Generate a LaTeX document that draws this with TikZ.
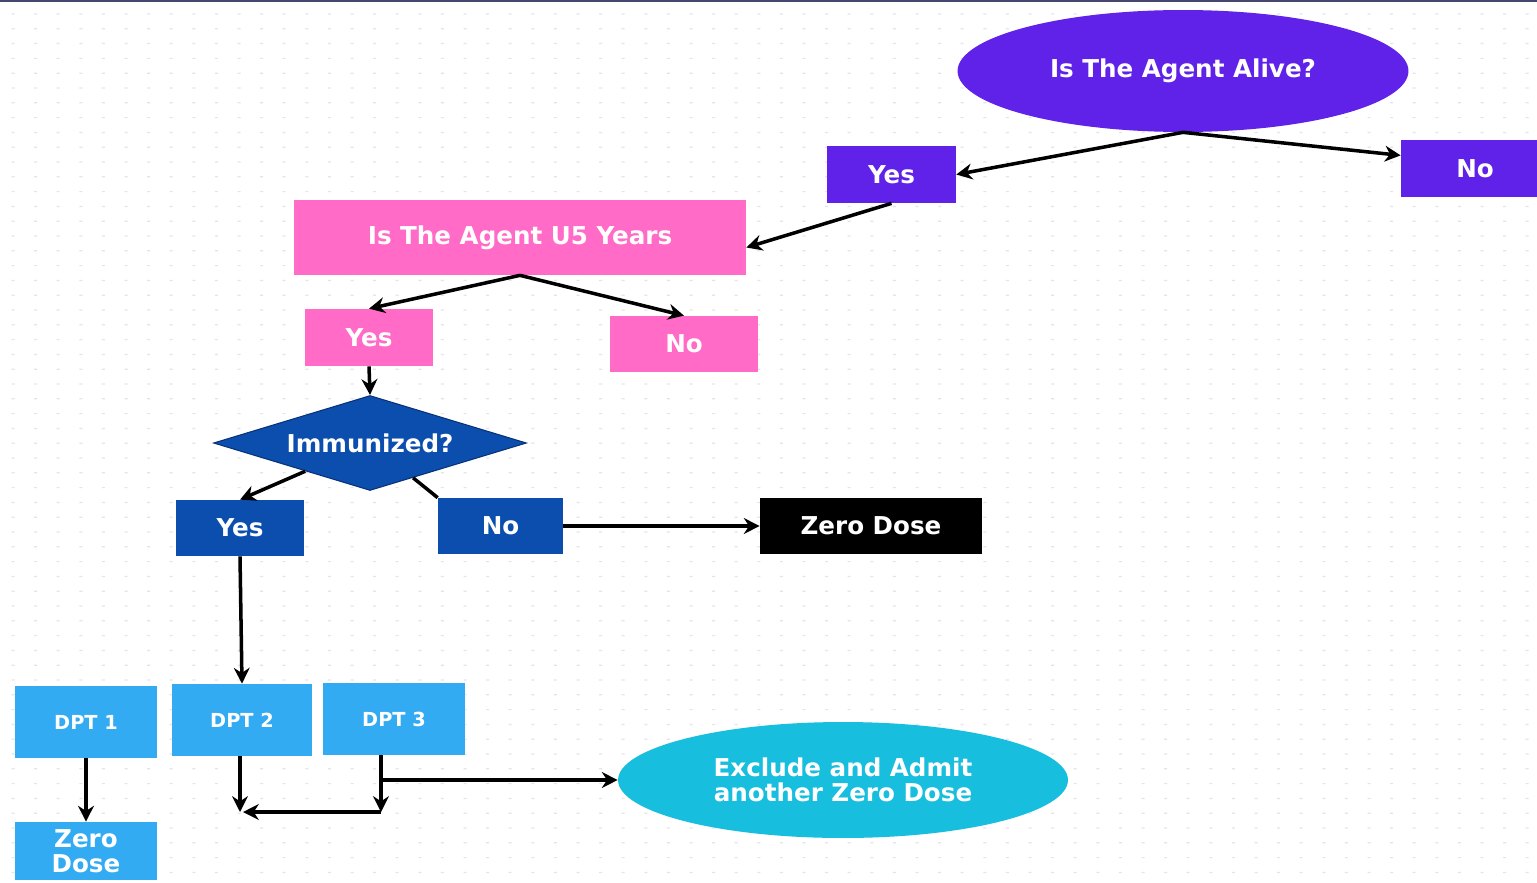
\documentclass[tikz,border=0pt]{standalone}
\usepackage{fontspec}
\setmainfont{DejaVu Sans}
\usetikzlibrary{shapes.geometric, arrows.meta, positioning, calc}
\definecolor{agentpurple}{RGB}{96,33,232}
\definecolor{agentpink}{RGB}{255,107,199}
\definecolor{immblue}{RGB}{11,78,174}
\definecolor{immborder}{RGB}{8,50,120}
\definecolor{dptblue}{RGB}{51,171,243}
\definecolor{excludecyan}{RGB}{24,190,222}
\definecolor{gridgray}{RGB}{228,228,236}
\definecolor{topline}{RGB}{70,70,110}
\tikzset{
  flowbox/.style={rectangle, inner sep=0pt, align=center, text=white,
    font=\bfseries\fontsize{14}{14}\selectfont},
  purplebox/.style={flowbox, fill=agentpurple},
  pinkbox/.style={flowbox, fill=agentpink},
  bluebox/.style={flowbox, fill=immblue},
  dptbox/.style={flowbox, fill=dptblue, font=\bfseries\fontsize{11}{11}\selectfont},
  arrow/.style={-{Stealth[length=9pt, width=9pt]}, line width=2pt, color=black},
  line/.style={draw, line width=2pt, color=black}
}

\begin{document}
\begin{tikzpicture}[x=0.02cm, y=-0.02cm]
  \useasboundingbox (0,0) rectangle (1537,882);
  \clip (0,0) rectangle (1537,882);

  % Background grid
  \fill[white] (0,0) rectangle (1537,882);
  \fill[gridgray] \foreach \x in {13,35.6,...,1537} {
    \foreach \y in {14,28.8,...,882} { (\x-1.5,\y-0.6) rectangle (\x+1.5,\y+0.6) } };
  \fill[topline] (0,0) rectangle (1537,2.5);

  % Is the agent alive
  \node[ellipse, fill=agentpurple, inner sep=0pt, minimum width=9.02cm, minimum height=2.44cm,
    text=white, font=\bfseries\fontsize{14}{14}\selectfont] (alive) at (1183,71) {Is The Agent Alive?};
  \node[purplebox, minimum width=2.58cm, minimum height=1.14cm] (aliveyes) at (891.5,174.5) {Yes};
  \node[purplebox, minimum width=2.96cm, minimum height=1.14cm] (aliveno) at (1475,168.5) {No};

  % Under five
  \node[pinkbox, minimum width=9.04cm, minimum height=1.5cm] (ufive) at (520,237.5) {Is The Agent U5 Years};
  \node[pinkbox, minimum width=2.56cm, minimum height=1.14cm] (ufiveyes) at (369,337.5) {Yes};
  \node[pinkbox, minimum width=2.96cm, minimum height=1.12cm] (ufiveno) at (684,344) {No};

  % Immunized
  \node[diamond, aspect=3.3, fill=immblue, draw=immborder, line width=0.6pt, inner sep=0pt,
    minimum width=6.26cm, minimum height=1.9cm, text=white,
    font=\bfseries\fontsize{14}{14}\selectfont] (immun) at (370,443) {Immunized?};
  \node[bluebox, minimum width=2.56cm, minimum height=1.12cm] (immyes) at (240,528) {Yes};
  \node[bluebox, minimum width=2.5cm, minimum height=1.12cm] (immno) at (500.5,526) {No};
  \node[flowbox, fill=black, minimum width=4.44cm, minimum height=1.12cm] (zerodose) at (871,526) {Zero Dose};

  % DPT doses
  \node[dptbox, minimum width=2.84cm, minimum height=1.44cm] (dptone) at (86,722) {DPT 1};
  \node[dptbox, minimum width=2.8cm, minimum height=1.44cm] (dpttwo) at (242,720) {DPT 2};
  \node[dptbox, minimum width=2.84cm, minimum height=1.44cm] (dptthree) at (394,719) {DPT 3};
  \node[flowbox, fill=dptblue, minimum width=2.84cm, minimum height=1.16cm] (zerodosetwo) at (86,851) {Zero\\Dose};
  \node[ellipse, fill=excludecyan, inner sep=0pt, minimum width=9.0cm, minimum height=2.32cm,
    text=white, font=\bfseries\fontsize{14}{14}\selectfont, align=center] (exclude) at (843,780)
    {Exclude and Admit\\another Zero Dose};

  \coordinate (jtwo) at (240,812);
  \coordinate (jthree) at (381,812);

  % Connections
  \draw[arrow] (alive.south) -- (aliveyes.east);
  \draw[arrow] (alive.south) -- (aliveno.170);
  \draw[arrow] (aliveyes.south) -- ([yshift=-0.2cm]ufive.east);
  \draw[arrow] (ufive.south) -- (ufiveyes.north);
  \draw[arrow] (ufive.south) -- (ufiveno.north);
  \draw[arrow] (ufiveyes.south) -- (immun.north);
  \draw[arrow] (immun) -- (immyes.north);
  \draw[line] (immun) -- (immno.north west);
  \draw[arrow] (immno.east) -- (zerodose.west);
  \draw[arrow] (immyes.south) -- (dpttwo.north);
  \draw[arrow] (dptone.south) -- (zerodosetwo.north);
  \draw[arrow] (dpttwo.south -| jtwo) -- (jtwo);
  \draw[arrow] (dptthree.south -| jthree) -- (jthree);
  \draw[arrow] (jthree) -- ([xshift=0.06cm]jtwo);
  \draw[arrow] (exclude.west -| jthree) -- (exclude.west);
\end{tikzpicture}
\end{document}
